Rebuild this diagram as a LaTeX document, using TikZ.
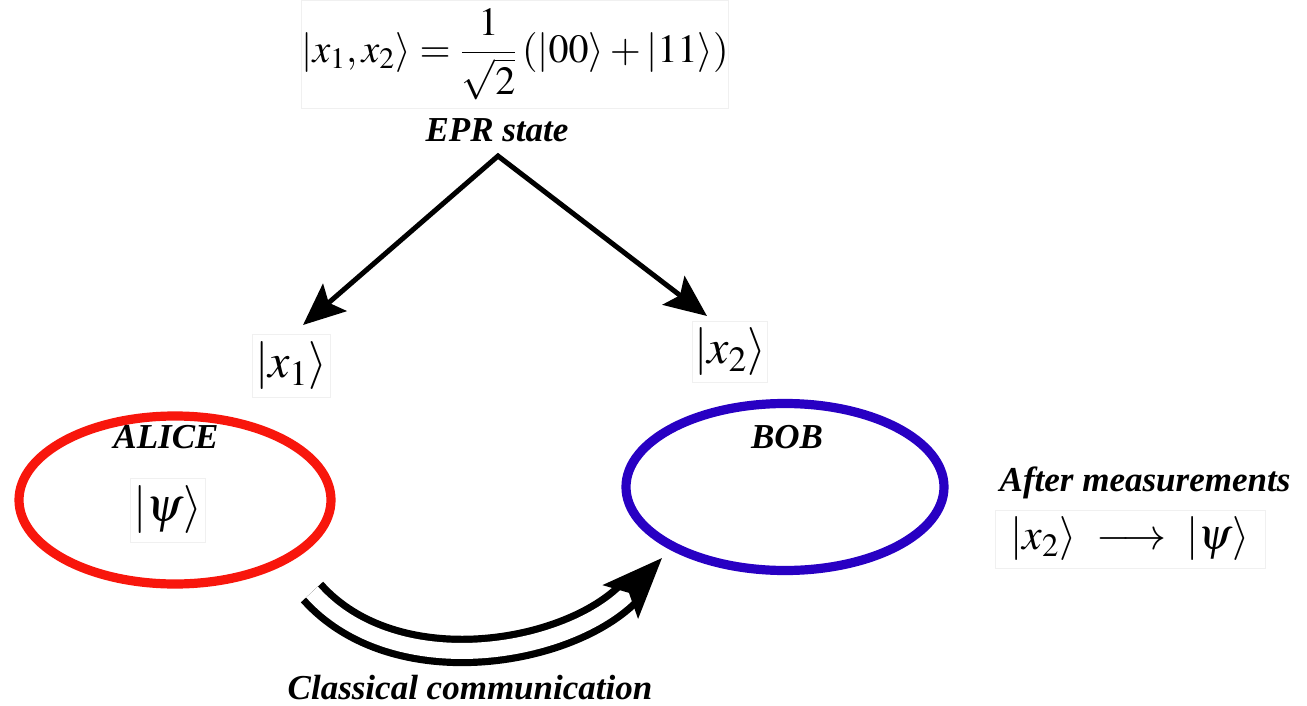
\documentclass[tikz,border=0pt]{standalone}
\usepackage{mathptmx}
\usepackage{fontspec}
\setmainfont{Liberation Serif}
\usetikzlibrary{arrows.meta,shapes.geometric}
\definecolor{alicered}{RGB}{248,22,12}
\definecolor{bobblue}{RGB}{40,0,195}
\tikzset{
  lbl/.style={font=\fontsize{17.5}{20}\selectfont\bfseries\itshape, inner sep=0pt},
  mathbox/.style={draw=black!6, line width=0.4pt, inner sep=0pt},
  party/.style={ellipse, draw, line width=4.6pt, inner sep=0pt},
  epr/.style={line width=2.5pt, line join=miter, {Stealth[length=21pt,width=18pt,inset=4pt]}-{Stealth[length=21pt,width=18pt,inset=4pt]}},
  classical/.style={double, double distance=8pt, line width=3.6pt, -{Stealth[length=30pt,width=24pt,inset=6pt]}}
}
\begin{document}
\begin{tikzpicture}[x=0.5pt,y=-0.5pt]
\useasboundingbox (0,0) rectangle (1307,706);
% EPR state
\node[mathbox, minimum width=210pt, minimum height=54pt] (eq) at (515,54)
  {\fontsize{20}{24}\selectfont$\displaystyle|x_1,x_2\rangle=\frac{1}{\sqrt{2}}\left(|00\rangle+|11\rangle\right)$};
\node[lbl] (eprlbl) at (497,130) {EPR state};
\coordinate (apex) at (498,156);
\coordinate (ltip) at (303,325);
\coordinate (rtip) at (707,316);
\draw[epr] (ltip) -- (apex) -- (rtip);
% kets
\node[mathbox, minimum width=39pt, minimum height=31.5pt] (x1) at (291,366)
  {\fontsize{24}{28}\selectfont$|x_1\rangle$};
\node[mathbox, minimum width=37.5pt, minimum height=30.5pt] (x2) at (730,352)
  {\fontsize{24}{28}\selectfont$|x_2\rangle$};
% parties
\node[party, draw=alicered, minimum width=156pt, minimum height=84pt] (alice) at (175,500) {};
\node[party, draw=bobblue, minimum width=159pt, minimum height=83.5pt] (bob) at (785,487) {};
\node[lbl] (alicelbl) at (166,437) {ALICE};
\node[lbl] (boblbl) at (787,437) {BOB};
\node[mathbox, minimum width=37.5pt, minimum height=32pt] (psi) at (168,510)
  {\fontsize{24}{28}\selectfont$|\psi\rangle$};
% after measurement
\node[lbl] (after) at (1145,483) {After measurements};
\node[mathbox, minimum width=135pt, minimum height=29pt] (res) at (1130,539)
  {\fontsize{22}{26}\selectfont$|x_2\rangle\;\longrightarrow\;|\psi\rangle$};
% classical communication
\coordinate (cs) at (312,592);
\coordinate (ce) at (662,558);
\draw[classical] (cs) .. controls (395,685) and (570,655) .. (ce);
\node[lbl] (cc) at (470,688) {Classical communication};
\end{tikzpicture}
\end{document}
